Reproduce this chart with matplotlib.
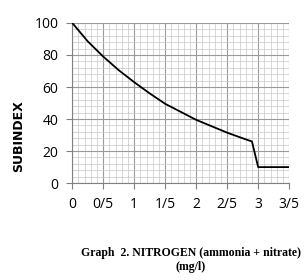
import matplotlib.pyplot as plt
from matplotlib.ticker import MultipleLocator

# nitrogen concentration (mg/l) vs subindex
nitrogen = [0, 0.25, 0.5, 0.75, 1.0, 1.25, 1.5, 1.75, 2.0, 2.25, 2.5, 2.75, 2.9, 3.0, 3.5]
subindex = [100, 88.5, 79, 70.5, 63, 56, 49.5, 44.5, 39.5, 35.5, 31.5, 28, 26, 10, 10]
xtick_vals = [0, 0.5, 1, 1.5, 2, 2.5, 3, 3.5]
xtick_labels = ['0', '0/5', '1', '1/5', '2', '2/5', '3', '3/5']

fig = plt.figure(figsize=(3.05, 2.8), dpi=100)
ax = fig.add_axes([0.237, 0.346, 0.711, 0.572])

ax.plot(nitrogen, subindex, color='black', lw=1.3, zorder=3)

ax.set_xlim(0, 3.5)
ax.set_ylim(0, 100)
ax.set_xticks(xtick_vals)
ax.set_xticklabels(xtick_labels)
ax.set_yticks(range(0, 101, 20))
ax.xaxis.set_minor_locator(MultipleLocator(0.1))
ax.yaxis.set_minor_locator(MultipleLocator(4))

ax.grid(which='major', color='#9a9a9a', lw=0.8)
ax.grid(which='minor', color='#c8c8c8', lw=0.5)
ax.tick_params(which='minor', length=0)
ax.tick_params(which='major', length=4, color='#808080', labelsize=10, pad=6)

for s in ['top', 'right']:
    ax.spines[s].set_visible(False)
for s in ['left', 'bottom']:
    ax.spines[s].set_color('#808080')

for lab in ax.get_xticklabels() + ax.get_yticklabels():
    lab.set_family('Open Sans')

fig.text(0.06, 0.514, 'SUBINDEX', rotation=90, fontsize=9, fontweight='bold',
         family='DejaVu Sans', ha='center', va='center')

fig.text(0.625, 0.071, 'Graph  2. NITROGEN (ammonia + nitrate)\n(mg/l)',
         fontsize=8.5, fontweight='bold', family='Liberation Serif',
         ha='center', va='center', linespacing=1.25)

fig.savefig('out.png', dpi=100)
